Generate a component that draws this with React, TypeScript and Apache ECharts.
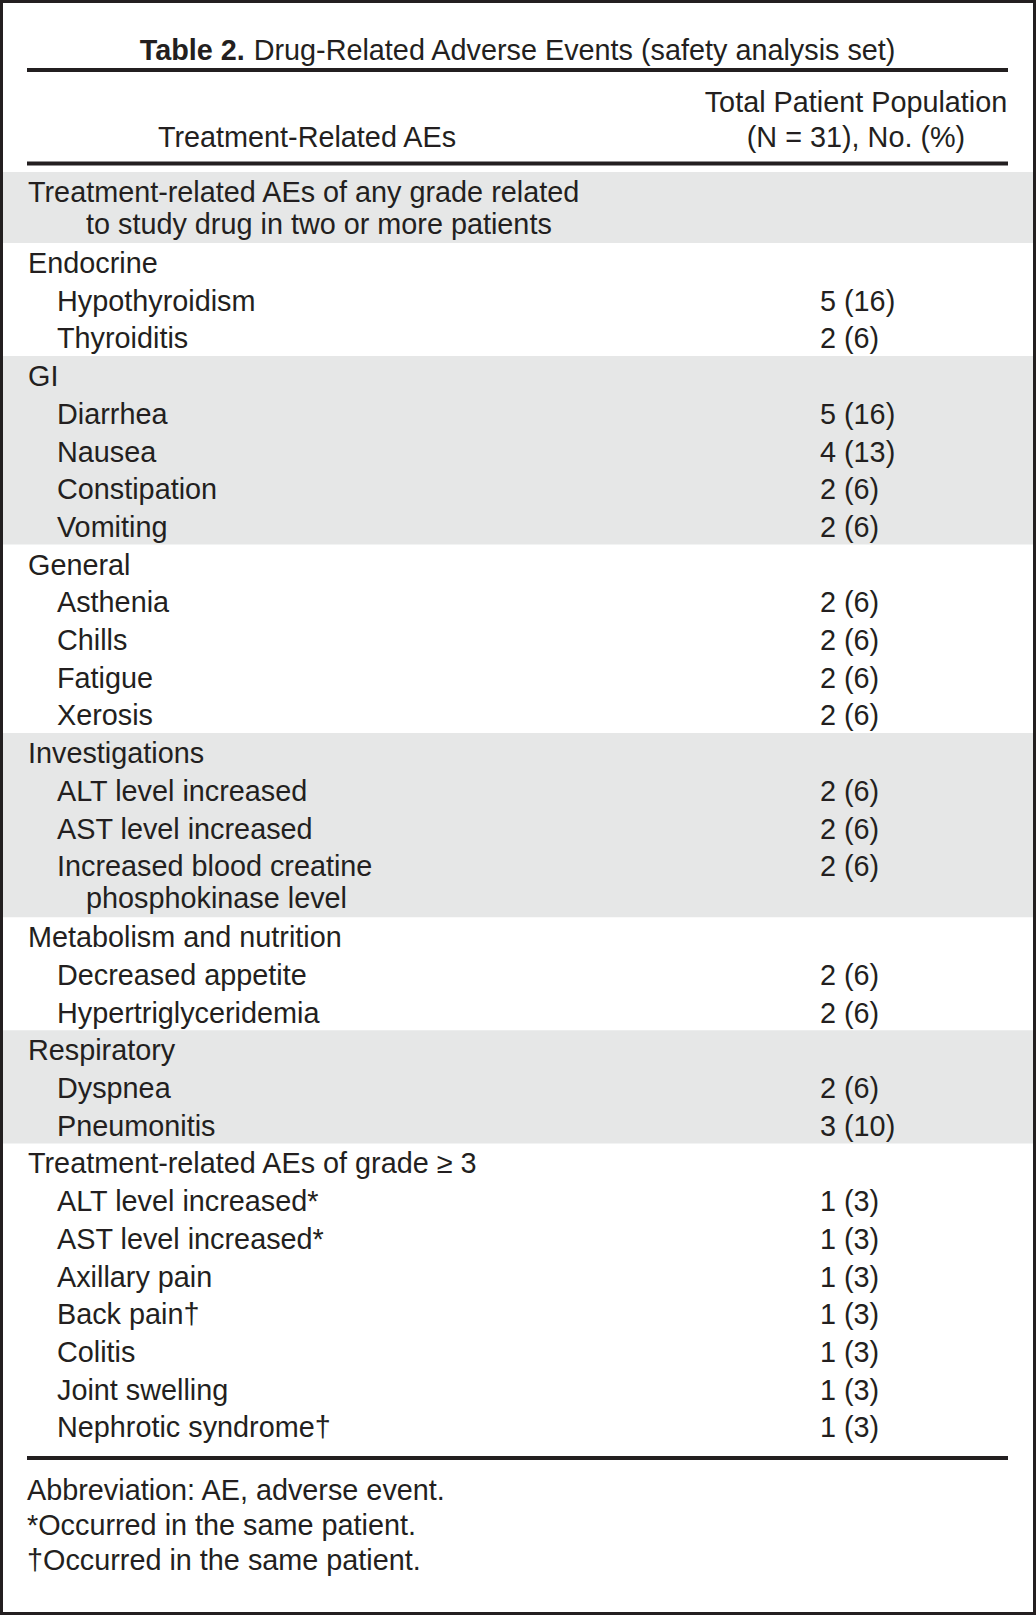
import React, { useEffect, useRef } from "react";
import * as echarts from "echarts";

// ---- Data ----
const titleBold = "Table 2.";
const titleRest = "Drug-Related Adverse Events (safety analysis set)";
const headerLeft = "Treatment-Related AEs";
const headerRight = ["Total Patient Population", "(N = 31), No. (%)"];

const anyGradeHeading = "Treatment-related AEs of any grade related\nto study drug in two or more patients";
const grade3Heading = "Treatment-related AEs of grade \u2265 3";

const sectionNames = ["Endocrine", "GI", "General", "Investigations", "Metabolism and nutrition", "Respiratory"];
const endocrineItems = ["Hypothyroidism", "Thyroiditis"];
const endocrineCounts = [5, 2];
const endocrinePct = [16, 6];
const giItems = ["Diarrhea", "Nausea", "Constipation", "Vomiting"];
const giCounts = [5, 4, 2, 2];
const giPct = [16, 13, 6, 6];
const generalItems = ["Asthenia", "Chills", "Fatigue", "Xerosis"];
const generalCounts = [2, 2, 2, 2];
const generalPct = [6, 6, 6, 6];
const investigationItems = ["ALT level increased", "AST level increased", "Increased blood creatine\nphosphokinase level"];
const investigationCounts = [2, 2, 2];
const investigationPct = [6, 6, 6];
const metabolismItems = ["Decreased appetite", "Hypertriglyceridemia"];
const metabolismCounts = [2, 2];
const metabolismPct = [6, 6];
const respiratoryItems = ["Dyspnea", "Pneumonitis"];
const respiratoryCounts = [2, 3];
const respiratoryPct = [6, 10];
const grade3Items = ["ALT level increased*", "AST level increased*", "Axillary pain", "Back pain\u2020", "Colitis", "Joint swelling", "Nephrotic syndrome\u2020"];
const grade3Counts = [1, 1, 1, 1, 1, 1, 1];
const grade3Pct = [3, 3, 3, 3, 3, 3, 3];

const footnotes = ["Abbreviation: AE, adverse event.", "*Occurred in the same patient.", "\u2020Occurred in the same patient."];

// ---- Layout / style ----
const W = 1036;
const H = 1615;
const FONT = "'Liberation Sans', Arial, sans-serif";
const FS = 28.8;
const INK = "#231f20";
const BAND = "#e6e7e7";

type Row = { label: string; value?: string; indent: number };
type Group = { rows: Row[]; gray: boolean };

function fmt(c: number, p: number) {
  return `${c} (${p})`;
}
function itemsRows(items: string[], counts: number[], pct: number[]): Row[] {
  return items.map((l, i) => ({ label: l, value: fmt(counts[i], pct[i]), indent: 1 }));
}

const groups: Group[] = [
  { rows: [{ label: anyGradeHeading, indent: 0 }], gray: true },
  { rows: [{ label: sectionNames[0], indent: 0 }, ...itemsRows(endocrineItems, endocrineCounts, endocrinePct)], gray: false },
  { rows: [{ label: sectionNames[1], indent: 0 }, ...itemsRows(giItems, giCounts, giPct)], gray: true },
  { rows: [{ label: sectionNames[2], indent: 0 }, ...itemsRows(generalItems, generalCounts, generalPct)], gray: false },
  { rows: [{ label: sectionNames[3], indent: 0 }, ...itemsRows(investigationItems, investigationCounts, investigationPct)], gray: true },
  { rows: [{ label: sectionNames[4], indent: 0 }, ...itemsRows(metabolismItems, metabolismCounts, metabolismPct)], gray: false },
  { rows: [{ label: sectionNames[5], indent: 0 }, ...itemsRows(respiratoryItems, respiratoryCounts, respiratoryPct)], gray: true },
  { rows: [{ label: grade3Heading, indent: 0 }, ...itemsRows(grade3Items, grade3Counts, grade3Pct)], gray: false },
];

function buildGraphics() {
  const els: any[] = [];
  const txt = (x: number, y: number, text: string, align = "left", extra: any = {}) =>
    els.push({
      type: "text",
      x,
      y,
      z: 10,
      style: { text, fontFamily: FONT, fontSize: FS, fill: INK, align, verticalAlign: "middle", ...extra },
    });

  // background
  els.push({ type: "rect", shape: { x: 0, y: 0, width: W, height: H }, style: { fill: "#fff" }, z: 0 });

  const ROW = 37.7;
  const LINE2 = 31.5;
  const X0 = 28;
  const X1 = 57;
  const XC = 86;
  const XV = 820;
  let y = 172;
  groups.forEach((g) => {
    const start = y;
    const texts: any[] = [];
    g.rows.forEach((r) => {
      const lines = r.label.split("\n");
      const h = ROW + (lines.length - 1) * (71 - ROW);
      const bx = r.indent ? X1 : X0;
      lines.forEach((ln, i) => {
        texts.push([i === 0 ? bx : XC, y + 20 + i * LINE2, ln]);
      });
      if (r.value) texts.push([XV, y + 20, r.value]);
      y += h;
    });
    if (g.gray) {
      els.push({ type: "rect", shape: { x: 3, y: start, width: 1030, height: y - start }, style: { fill: BAND }, z: 1 });
    }
    texts.forEach((t) => txt(t[0], t[1], t[2]));
  });

  // rules
  [70, 163.5, 1458].forEach((ry) =>
    els.push({ type: "line", shape: { x1: 27, y1: ry, x2: 1008, y2: ry }, style: { stroke: INK, lineWidth: 4 }, z: 5 })
  );

  // title
  els.push({
    type: "text",
    x: 518,
    y: 50,
    z: 10,
    style: {
      text: `{b|${titleBold}} ${titleRest}`,
      fontFamily: FONT,
      fontSize: FS,
      fill: INK,
      align: "center",
      verticalAlign: "middle",
      rich: { b: { fontFamily: FONT, fontSize: FS, fontWeight: "bold", fill: INK } },
    },
  });

  // header
  txt(856, 102, headerRight[0], "center");
  txt(856, 137, headerRight[1], "center");
  txt(307, 137, headerLeft, "center");

  // footnotes
  footnotes.forEach((f, i) => txt(27, 1490 + i * 35, f));

  // frame
  els.push({
    type: "rect",
    shape: { x: 1.5, y: 1.5, width: W - 3, height: H - 3 },
    style: { fill: "none", stroke: INK, lineWidth: 3 },
    z: 20,
  });
  return els;
}

export default function App() {
  const ref = useRef<HTMLDivElement>(null);
  useEffect(() => {
    document.body.style.margin = "0";
    const chart = echarts.init(ref.current!, undefined, { renderer: "svg" });
    chart.setOption({ animation: false, graphic: { elements: buildGraphics() } });
    return () => chart.dispose();
  }, []);
  return <div ref={ref} style={{ width: W, height: H }} />;
}
